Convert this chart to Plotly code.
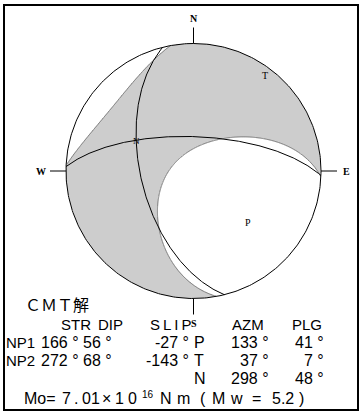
import numpy as np
import plotly.graph_objects as go

# Best double-couple nodal planes
planes = ["NP1", "NP2"]
strikes = [166, 272]
dips = [56, 68]
slips = [-27, -143]

# Principal axes of the moment tensor
axis_names = ["P", "T", "N"]
azimuths = [133, 37, 298]
plunges = [41, 7, 48]
# relative moment-tensor eigenvalues on the P, T, N axes
eigenvalues = [-1.00, 0.70, 0.30]

moment_mantissa = 7.01
moment_exponent = 16
mw = 5.2

compass_labels = ["N", "E", "S", "W"]
compass_az = [0, 90, 180, 270]

# ---- layout geometry (page pixels) ----
W, H = 363, 412
CX, CY, R = 193.5, 171.0, 127.5
SQ2 = np.sqrt(2.0)


def axis_vec(az, pl):
    a, p = np.radians(az), np.radians(pl)
    return np.array([np.cos(p) * np.cos(a), np.cos(p) * np.sin(a), np.sin(p)])


def project(v):
    """Equal-area lower-hemisphere projection of (north, east, down) vectors."""
    v = np.atleast_2d(v).astype(float)
    flip = v[:, 2] < 0
    v[flip] *= -1
    theta = np.arccos(np.clip(v[:, 2], -1, 1))
    r = SQ2 * np.sin(theta / 2)
    az = np.arctan2(v[:, 1], v[:, 0])
    return CX + R * r * np.sin(az), CY - R * r * np.cos(az)


# ---- radiation pattern of the full moment tensor ----
M = sum(lam * np.outer(axis_vec(a, p), axis_vec(a, p))
        for lam, a, p in zip(eigenvalues, azimuths, plunges))

n_grid = 641
xs = np.linspace(CX - R, CX + R, n_grid)
ys = np.linspace(CY - R, CY + R, n_grid)
GX, GY = np.meshgrid(xs, ys)
u = (GX - CX) / R
w = (CY - GY) / R
rr = np.hypot(u, w)
inside = rr <= 1.0
theta = 2 * np.arcsin(np.clip(rr / SQ2, 0, 1))
with np.errstate(invalid="ignore", divide="ignore"):
    vn = np.where(rr > 0, np.sin(theta) * w / rr, 0.0)
    ve = np.where(rr > 0, np.sin(theta) * u / rr, 0.0)
vd = np.cos(theta)
V = np.stack([vn, ve, vd], axis=-1)
amp = np.einsum("...i,ij,...j->...", V, M, V)

shade = np.where(inside, (amp > 0).astype(float), np.nan)
amp_in = np.where(inside, amp, np.nan)

fig = go.Figure()

fig.add_trace(go.Heatmap(
    x=xs, y=ys, z=shade, zmin=0, zmax=1, zsmooth=False,
    colorscale=[[0, "white"], [1, "#cdcdcd"]],
    showscale=False, hoverinfo="skip"))

fig.add_trace(go.Contour(
    x=xs, y=ys, z=amp_in, showscale=False, hoverinfo="skip",
    contours=dict(start=0, end=0, size=1, coloring="none"),
    line=dict(color="#6e6e6e", width=1)))

# nodal planes as great circles
for s, d in zip(strikes, dips):
    sr, dr = np.radians(s), np.radians(d)
    s_vec = np.array([np.cos(sr), np.sin(sr), 0.0])
    d_vec = np.array([np.cos(dr) * np.cos(sr + np.pi / 2),
                      np.cos(dr) * np.sin(sr + np.pi / 2), np.sin(dr)])
    psi = np.linspace(0, np.pi, 241)
    pts = np.cos(psi)[:, None] * s_vec + np.sin(psi)[:, None] * d_vec
    px, py = project(pts)
    fig.add_trace(go.Scatter(x=px, y=py, mode="lines", hoverinfo="skip",
                             line=dict(color="black", width=1), showlegend=False))

# primitive circle
ang = np.linspace(0, 2 * np.pi, 361)
fig.add_trace(go.Scatter(x=CX + R * np.sin(ang), y=CY - R * np.cos(ang),
                         mode="lines", hoverinfo="skip",
                         line=dict(color="black", width=1), showlegend=False))

annotations = []
shapes = []
serif = dict(family="Liberation Serif, DejaVu Serif, serif", size=10, color="black")

# compass ticks and letters
for lab, az in zip(compass_labels, compass_az):
    a = np.radians(az)
    sx, sy = np.sin(a), -np.cos(a)
    shapes.append(dict(type="line", xref="x", yref="y",
                       x0=CX + R * sx, y0=CY + R * sy,
                       x1=CX + (R + 16) * sx, y1=CY + (R + 16) * sy,
                       line=dict(color="black", width=1)))
    annotations.append(dict(x=CX + (R + 25) * sx, y=CY + (R + 25) * sy,
                            text=f"<b>{lab}</b>", showarrow=False,
                            font=serif, xanchor="center", yanchor="middle"))

# P, T, N axis letters
for lab, a, p in zip(axis_names, azimuths, plunges):
    ax_, ay_ = project(axis_vec(a, p))
    annotations.append(dict(x=float(ax_[0]), y=float(ay_[0]), text=lab,
                            showarrow=False, xanchor="center", yanchor="middle",
                            font=dict(family="Liberation Serif, serif",
                                      size=9 if lab == "N" else 10, color="black")))

# parameter table
SANS = "Liberation Sans, Arial, sans-serif"
sans = dict(family=SANS, size=16, color="black")
head = dict(family=SANS, size=15, color="black")
THIN = "\u2009"


def txt(x, y, s, anchor="left", font=sans):
    annotations.append(dict(x=x, y=y, text=s, showarrow=False,
                            xanchor=anchor, yanchor="middle", font=font))


txt(23, 304, "ＣＭＴ解",
    font=dict(family="Noto Sans CJK JP, sans-serif", size=16, color="black"))

for lab, xc in zip(["STR", "DIP", THIN.join("SLIP"), "AZM", "PLG"],
                   [76, 110, 171, 248, 307]):
    txt(xc, 324, lab, anchor="center", font=head)

row_y = [342, 360, 378]
for i, name in enumerate(planes):
    y = row_y[i]
    txt(4, y, name, font=head)
    txt(81, y, f"{strikes[i]} °", anchor="right")
    txt(114, y, f"{dips[i]} °", anchor="right")
    txt(191, y, f"{slips[i]} °", anchor="right")

for i, name in enumerate(axis_names):
    y = row_y[i]
    txt(192, y, name)
    txt(271, y, f"{azimuths[i]} °", anchor="right")
    txt(326, y, f"{plunges[i]} °", anchor="right")

# seismic moment line, set in spaced pieces
mo_int, mo_frac = f"{moment_mantissa:.2f}".split(".")
mo_y = 398
for piece, x0 in [("Mo=", 22), (mo_int, 60), (".", 72), (mo_frac, 80),
                  ("×", 100), ("1", 113), ("0", 126), ("N", 158), ("m", 175),
                  ("(", 198), ("M", 210), ("w", 228), ("=", 250), (f"{mw}", 270),
                  (")", 297)]:
    txt(x0, mo_y, piece)
txt(140, mo_y - 4, f"{moment_exponent}",
    font=dict(family=SANS, size=10, color="black"))

# outer frame
shapes.append(dict(type="rect", xref="x", yref="y", x0=4, y0=5, x1=358, y1=410,
                   line=dict(color="black", width=2)))

fig.update_layout(
    width=W, height=H, margin=dict(l=0, r=0, t=0, b=0),
    paper_bgcolor="white", plot_bgcolor="white", showlegend=False,
    xaxis=dict(range=[0, W], visible=False, fixedrange=True),
    yaxis=dict(range=[H, 0], visible=False, fixedrange=True),
    annotations=annotations, shapes=shapes)

fig.write_html("out.html")
